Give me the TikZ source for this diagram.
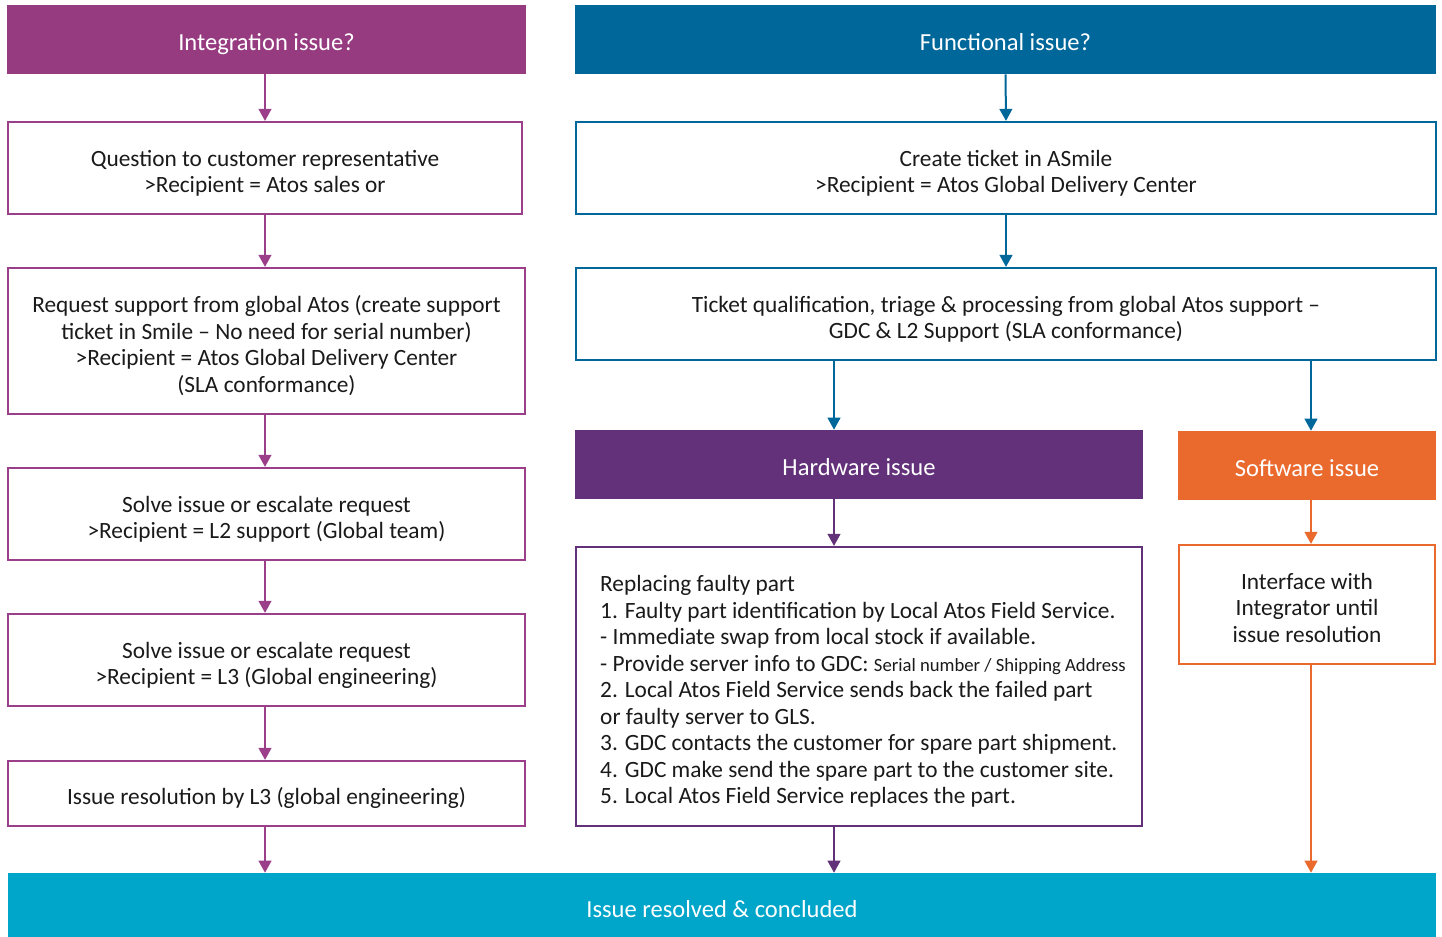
\documentclass[tikz,border=0pt]{standalone}
\usepackage{fontspec}
\setmainfont{Carlito}
\usetikzlibrary{arrows.meta}
\definecolor{intc}{HTML}{973B81}
\definecolor{intb}{HTML}{9C3F8B}
\definecolor{funcc}{HTML}{00679A}
\definecolor{hwc}{HTML}{63317A}
\definecolor{swc}{HTML}{EA6A2E}
\definecolor{endc}{HTML}{00A5CA}
\definecolor{txtc}{HTML}{1A1A1A}
\newcommand{\tb}[1]{\raisebox{0pt}[\dimexpr\height+9pt\relax][\depth]{\begin{tabular}{@{}c@{}}#1\end{tabular}}}
\begin{document}
\begin{tikzpicture}[x=0.75pt,y=-0.75pt,
  txt/.style={font=\fontsize{17.5pt}{19.9pt}\selectfont, text=txtc},
  hdr/.style={font=\fontsize{18.4pt}{19.9pt}\selectfont, fill=#1, text=white, draw=none, inner sep=0pt, text height=18.5pt, text depth=2.6pt},
  bx/.style={txt, draw=#1, line width=1.6pt, fill=white, inner sep=0pt},
  arr/.style={draw=#1, line width=1.5pt, -{Triangle[width=9.5pt,length=9pt]}},
  sz/.style 2 args={minimum width=#1*0.75pt, minimum height=#2*0.75pt}
]
\useasboundingbox (0,0) rectangle (1442,937);

% left column
\node[hdr=intc, sz={519}{69}] (intH) at (266.5,39.5) {Integration issue?};
\node[bx=intb, sz={514}{92}] (L1) at (265,168) {\tb{Question to customer representative\\ >Recipient = Atos sales or}};
\node[bx=intb, sz={517}{146}] (L2) at (266.5,341) {\tb{Request support from global Atos (create support\\ ticket in Smile -- No need for serial number)\\ >Recipient = Atos Global Delivery Center\\ (SLA conformance)}};
\node[bx=intb, sz={517}{92}] (L3) at (266.5,514) {\tb{Solve issue or escalate request\\ >Recipient = L2 support (Global team)}};
\node[bx=intb, sz={517}{92}] (L4) at (266.5,660) {\tb{Solve issue or escalate request\\ >Recipient = L3 (Global engineering)}};
\node[bx=intb, sz={517}{65}] (L5) at (266.5,793.5) {\tb{Issue resolution by L3 (global engineering)}};

% right column
\node[hdr=funcc, sz={861}{69}] (funcH) at (1005.5,39.5) {Functional issue?};
\node[bx=funcc, sz={860}{92}] (F1) at (1006,168) {\tb{Create ticket in ASmile\\ >Recipient = Atos Global Delivery Center}};
\node[bx=funcc, sz={860}{92}] (F2) at (1006,314) {\tb{Ticket qualification, triage \& processing from global Atos support --\\ GDC \& L2 Support (SLA conformance)}};

\node[hdr=hwc, sz={568}{69}] (hwH) at (859,464.5) {Hardware issue};
\node[hdr=swc, sz={258}{69}] (swH) at (1307,465.5) {Software issue};

\node[bx=hwc, sz={566}{279}] (HW) at (859,686.5) {};
\node[txt, align=left, anchor=west, inner sep=0pt] (HWt) at ([xshift=25*0.75pt, yshift=-5*0.75pt]HW.west)
 {Replacing faulty part\\
  1. Faulty part identification by Local Atos Field Service.\\
  - Immediate swap from local stock if available.\\
  - Provide server info to GDC: {\fontsize{14pt}{14pt}\selectfont Serial number / Shipping Address}\\
  2. Local Atos Field Service sends back the failed part\\
  or faulty server to GLS.\\
  3. GDC contacts the customer for spare part shipment.\\
  4. GDC make send the spare part to the customer site.\\
  5. Local Atos Field Service replaces the part.};
\node[bx=swc, sz={256}{119}] (SW) at (1307,604.5) {\tb{Interface with\\ Integrator until\\ issue resolution}};

% bottom bar
\node[hdr=endc, sz={1428}{64}, text height=21.5pt, text depth=2.4pt] (END) at (722,905) {Issue resolved \& concluded};

\coordinate (lx) at (265,0);
\coordinate (hx) at (834,0);
\coordinate (sx) at (1311,0);

% left arrows
\draw[arr=intb] (intH.south -| lx) -- (L1.north -| lx);
\draw[arr=intb] (L1.south -| lx) -- (L2.north -| lx);
\draw[arr=intb] (L2.south -| lx) -- (L3.north -| lx);
\draw[arr=intb] (L3.south -| lx) -- (L4.north -| lx);
\draw[arr=intb] (L4.south -| lx) -- (L5.north -| lx);
\draw[arr=intb] (L5.south -| lx) -- (END.north -| lx);

% right arrows
\draw[arr=funcc] (funcH.south) -- (F1.north);
\draw[arr=funcc] (F1.south) -- (F2.north);
\draw[arr=funcc] (F2.south -| hx) -- (hwH.north -| hx);
\draw[arr=funcc] (F2.south -| sx) -- (swH.north -| sx);
\draw[arr=hwc] (hwH.south -| hx) -- (HW.north -| hx);
\draw[arr=hwc] (HW.south -| hx) -- (END.north -| hx);
\draw[arr=swc] (swH.south -| sx) -- (SW.north -| sx);
\draw[arr=swc] (SW.south -| sx) -- (END.north -| sx);
\end{tikzpicture}
\end{document}
